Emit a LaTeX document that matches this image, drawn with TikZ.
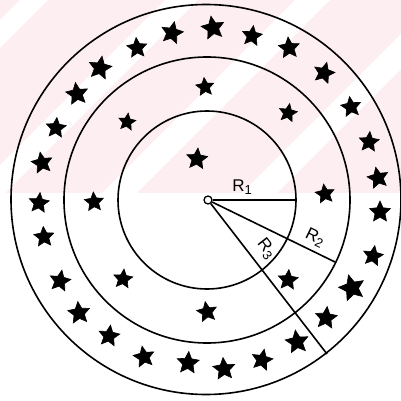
\documentclass[tikz,border=0pt]{standalone}
\usepackage{fontspec}
\setmainfont{Liberation Sans}
\usetikzlibrary{shapes.geometric}
\definecolor{wmpink}{RGB}{253,238,241}
\tikzset{
  ring/.style={draw=black,line width=1.6pt},
  radius line/.style={draw=black,line width=1.6pt},
  starA/.style={star,star points=5,star point ratio=2.1,fill=black,draw=black,line width=0.6pt,inner sep=0pt,minimum size=#1},
  rlabel/.style={font=\fontsize{17}{17}\selectfont,inner sep=0pt},
}
\newcommand{\rsub}[1]{R\raisebox{-0.4ex}{\fontsize{13}{13}\selectfont #1}}
\begin{document}
\begin{tikzpicture}[x=1pt,y=-1pt]
\useasboundingbox (0,0) rectangle (401,401);
% faint watermark
\begin{scope}
\clip (0,0) rectangle (401,193);
\fill[wmpink] (0,0) rectangle (401,193);
\foreach \a/\b in {20/48,165/198,295/330,435/470}{
  \fill[white] (\a,0) -- (\b,0) -- (0,\b) -- (0,\a) -- cycle;
}
\end{scope}
% rings
\coordinate (c) at (207,200);
\draw[ring] (206,199.5) circle[radius=195pt];
\draw[ring] (c) circle[radius=143pt];
\draw[ring] (c) circle[radius=89pt];
% radii
\node[circle,draw=black,line width=1.3pt,fill=white,inner sep=0pt,minimum size=8pt] (o) at (208,200) {};
\coordinate (e1) at (296,200);
\coordinate (e2) at (335,262);
\coordinate (e3) at (327,354);
\draw[radius line] (o) -- (e1);
\draw[radius line] (o) -- (e2);
\draw[radius line] (o) -- (e3);
\node[rlabel] (l1) at (242,187) {\rsub{1}};
\node[rlabel,rotate=-26] (l2) at (315,238) {\rsub{2}};
\node[rlabel,rotate=-52] (l3) at (266,249) {\rsub{3}};
% outer ring stars
\foreach \x/\y/\r/\s [count=\i] in {
  213/28/10/24, 252/36/-8/21, 289/48/5/22, 324/73/-15/22, 351/107/8/21,
  369/142/-5/21, 378/178/12/22, 380/212/0/22, 373/256/-10/21, 352/288/15/27,
  326/318/-6/23, 297/342/8/24, 262/360/-12/22, 224/369/5/23, 188/363/-4/23,
  144/357/10/22, 109/336/-8/22, 79/313/6/23, 60/281/-10/22, 44/237/4/21,
  39/203/-6/21, 42/163/10/22, 56/128/-5/21, 77/94/8/23, 100/68/-10/24,
  137/48/5/21, 172/33/-12/23}{
  \node[starA=\s pt,rotate=\r] (so\i) at (\x,\y) {};
}
% middle ring stars
\foreach \x/\y/\r/\s [count=\i] in {
  127/122/-8/18, 205/87/6/19, 288/113/-10/19, 325/194/8/20,
  288/280/-5/21, 207/312/10/21, 123/279/-6/20, 94/202/4/20}{
  \node[starA=\s pt,rotate=\r] (sm\i) at (\x,\y) {};
}
% inner star
\node[starA=22pt,rotate=-5] (si) at (197,159) {};
\end{tikzpicture}
\end{document}
